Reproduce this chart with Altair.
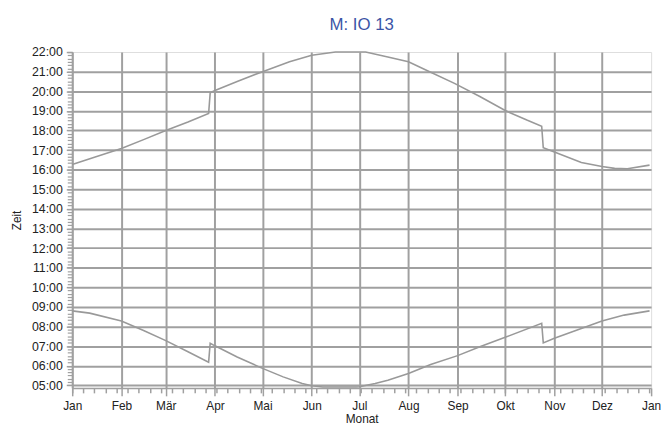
import altair as alt
import pandas as pd

YEAR = "2015"
month_names = ["Jan", "Feb", "Mär", "Apr", "Mai", "Jun", "Jul", "Aug", "Sep", "Okt", "Nov", "Dez", "Jan"]
month_starts = [0, 31, 59, 90, 120, 151, 181, 212, 243, 273, 304, 334, 365]

sunset_dates = ["01-01", "01-15", "02-01", "02-15", "03-01", "03-15", "03-28", "03-29",
                "04-01", "04-15", "05-01", "05-18", "06-01", "06-16", "07-05", "07-19",
                "08-01", "08-13", "08-30", "09-15", "10-01", "10-15", "10-24", "10-25",
                "11-01", "11-18", "12-01", "12-09", "12-17", "12-31"]
sunset_times = ["16:16", "16:38", "17:05", "17:32", "18:00", "18:26", "18:52", "19:55",
                "20:02", "20:30", "21:00", "21:30", "21:50", "22:00", "22:00", "21:45",
                "21:30", "21:03", "20:24", "19:44", "19:01", "18:31", "18:13", "17:07",
                "16:54", "16:22", "16:10", "16:04", "16:03", "16:14"]

sunrise_dates = ["01-01", "01-12", "02-01", "02-15", "03-01", "03-15", "03-28", "03-29",
                 "04-01", "04-15", "05-01", "05-14", "05-26", "06-01", "06-08", "06-29",
                 "07-01", "07-11", "07-19", "08-01", "08-15", "09-01", "09-15", "10-01",
                 "10-24", "10-25", "11-01", "11-18", "12-01", "12-15", "12-31"]
sunrise_times = ["08:48", "08:41", "08:17", "07:48", "07:17", "06:43", "06:11", "07:09",
                 "07:01", "06:27", "05:52", "05:26", "05:06", "04:59", "04:55", "04:55",
                 "04:56", "05:06", "05:16", "05:36", "06:04", "06:31", "06:58", "07:27",
                 "08:10", "07:10", "07:24", "07:54", "08:17", "08:35", "08:48"]


def build(dates, times, name):
    d = pd.to_datetime([YEAR + "-" + s for s in dates]).dayofyear - 1
    h = [int(t[:2]) + int(t[3:]) / 60 for t in times]
    return pd.DataFrame({"day": d, "hour": h, "serie": name})


df = pd.concat([build(sunset_dates, sunset_times, "Untergang"),
                build(sunrise_dates, sunrise_times, "Aufgang")], ignore_index=True)

GRID = "#a0a0a0"
FONT = "Liberation Sans"
names_js = "[" + ",".join("'" + m + "'" for m in month_names) + "]"
starts_js = "[" + ",".join(str(v) for v in month_starts) + "]"

xscale = alt.Scale(domain=[0, 365], nice=False, zero=False)
yscale = alt.Scale(domain=[4.87, 22.0], nice=False, zero=False)

lines = alt.Chart(df).mark_line(color="#999999", strokeWidth=1.6).encode(
    x=alt.X("day:Q", scale=xscale,
            axis=alt.Axis(values=month_starts, orient="bottom",
                          labelExpr=names_js + "[indexof(" + starts_js + ", datum.value)]",
                          grid=True, gridColor=GRID, gridWidth=2,
                          gridOpacity={"condition": {"test": "datum.value >= 365", "value": 0}, "value": 1},
                          domainColor=GRID, domainWidth=1.5, tickColor=GRID, tickWidth=1.5,
                          tickSize=8, labelPadding=5, labelFont=FONT, labelFontSize=12,
                          labelColor="#222222", labelFlush=False,
                          title="Monat", titleFont=FONT, titleFontSize=12,
                          titleFontWeight="normal", titleColor="#222222", titlePadding=2)),
    y=alt.Y("hour:Q", scale=yscale,
            axis=alt.Axis(values=list(range(5, 23)), orient="left",
                          labelExpr="(datum.value < 10 ? '0' : '') + datum.value + ':00'",
                          grid=True, gridColor=GRID, gridWidth=2,
                          gridOpacity={"condition": {"test": "datum.value >= 22", "value": 0}, "value": 1},
                          domainColor=GRID, domainWidth=1.5, tickColor=GRID, tickWidth=1.5,
                          tickSize=6, labelPadding=4, labelFont=FONT, labelFontSize=12.5,
                          labelColor="#222222", labelFlush=False,
                          title="Zeit", titleFont=FONT, titleFontSize=12,
                          titleFontWeight="normal", titleColor="#222222", titlePadding=8)),
    detail="serie:N",
)

minor = alt.Chart(df).mark_point(opacity=0).encode(
    x=alt.X("day:Q", scale=xscale,
            axis=alt.Axis(values=[7 * i for i in range(53)], orient="bottom",
                          labels=False, grid=False, domain=False, tickColor=GRID,
                          tickWidth=1.5, tickSize=5, title="")),
    y=alt.Y("hour:Q", scale=yscale,
            axis=alt.Axis(values=[5 + i / 6 for i in range(103)], orient="left",
                          labels=False, grid=False, domain=False, tickColor=GRID,
                          tickWidth=1.2, tickSize=5, title="")),
)

chart = alt.layer(lines, minor).resolve_axis(x="independent", y="independent").properties(
    width=586, height=340,
    autosize=alt.AutoSizeParams(type="none"),
    padding={"left": 65, "top": 42, "right": 10, "bottom": 38},
    title=alt.TitleParams("M: IO 13", color="#3b55a6", fontSize=17, fontWeight="normal",
                          font=FONT, anchor="middle", frame="group", offset=12),
).configure_view(stroke=None).configure(background="white")

chart.save("out.html", embed_options={"renderer": "svg", "actions": False})
